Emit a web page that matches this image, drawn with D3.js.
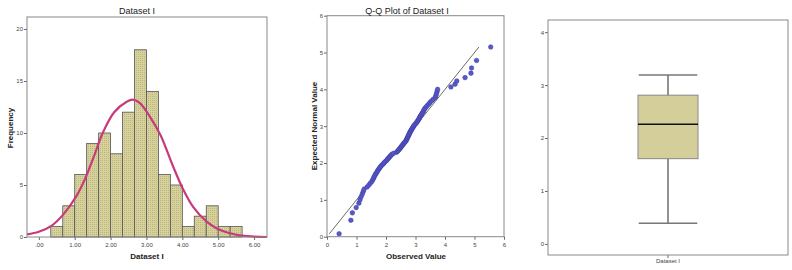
<!DOCTYPE html>
<html>
<head>
<meta charset="utf-8">
<script src="https://cdn.jsdelivr.net/npm/d3@7"></script>
<style>
  body { margin: 0; background: #fff; }
  svg { display: block; font-family: "Liberation Sans", Arial, sans-serif; }
  .axis path { display: none; }
  .axis line { stroke: #666; }
  .axis text { fill: #444; font-size: 6px; }
  .frame { fill: none; stroke: #888; stroke-width: 1; }
  .title { font-size: 9px; fill: #222; text-anchor: middle; }
  .label { font-size: 8px; font-weight: bold; fill: #222; text-anchor: middle; }
</style>
</head>
<body>
<svg width="792" height="270"></svg>
<script>
// histogram: bin edges and counts
var binStart = [0.333, 0.667, 1.0, 1.333, 1.667, 2.0, 2.333, 2.667, 3.0, 3.333, 3.667, 4.0, 4.333, 4.667, 5.0, 5.333];
var binCount = [1, 3, 6, 9, 10, 8, 12, 18, 14, 6, 5, 1, 2, 3, 1, 1];
var binWidth = 0.333;
var histXTicks = [0, 1, 2, 3, 4, 5, 6];
var histYTicks = [0, 5, 10, 15, 20];

// normal curve
var curveX = [-0.33, 0.0, 0.36, 0.69, 1.06, 1.29, 1.52, 1.78, 2.10, 2.45, 2.62, 2.81, 3.09, 3.39, 3.74, 4.02, 4.30, 4.67, 4.95, 5.23, 5.6, 6.0, 6.36];
var curveY = [0.25, 0.5, 1.1, 2.2, 4.0, 5.6, 7.6, 10.0, 12.0, 13.0, 13.2, 12.9, 11.6, 9.8, 6.8, 4.6, 2.9, 1.5, 0.85, 0.45, 0.15, 0.04, 0.0];

// Q-Q plot: observed vs expected normal value
var observed = [
  0.41, 0.81, 0.86, 0.99,
  1.08, 1.12, 1.16, 1.20, 1.23, 1.26,
  1.36, 1.42, 1.47, 1.52, 1.55, 1.58, 1.60, 1.63, 1.65,
  1.69, 1.71, 1.74, 1.77, 1.80, 1.83, 1.87, 1.91, 1.94, 1.98,
  2.02, 2.05, 2.08, 2.11, 2.14, 2.17, 2.20, 2.26,
  2.36, 2.39, 2.42, 2.45, 2.47, 2.50, 2.52, 2.55, 2.57, 2.60, 2.62, 2.65,
  2.68, 2.69, 2.71, 2.72, 2.74, 2.75, 2.77, 2.78, 2.80, 2.81, 2.83, 2.85, 2.87, 2.89, 2.91, 2.93, 2.95, 2.98,
  3.01, 3.04, 3.06, 3.09, 3.11, 3.13, 3.15, 3.17, 3.20, 3.22, 3.25, 3.27, 3.29, 3.32,
  3.36, 3.40, 3.45, 3.49, 3.54, 3.60,
  3.67, 3.69, 3.71, 3.73, 3.75,
  4.20, 4.34, 4.40, 4.68, 4.88, 4.90, 5.07, 5.55
];
var expected = [
  0.08, 0.445, 0.648, 0.79, 0.911, 1.003, 1.089, 1.165, 1.231, 1.292,
  1.35, 1.403, 1.453, 1.501, 1.546, 1.589, 1.63, 1.67, 1.708, 1.746,
  1.783, 1.818, 1.851, 1.885, 1.917, 1.949, 1.98, 2.011, 2.041, 2.07,
  2.10, 2.128, 2.156, 2.184, 2.211, 2.239, 2.265, 2.292, 2.319, 2.345,
  2.371, 2.397, 2.422, 2.449, 2.475, 2.50, 2.526, 2.551, 2.576, 2.602,
  2.628, 2.654, 2.679, 2.704, 2.73, 2.755, 2.781, 2.808, 2.833, 2.859,
  2.885, 2.911, 2.938, 2.965, 2.991, 3.019, 3.046, 3.074, 3.102, 3.13,
  3.16, 3.189, 3.219, 3.25, 3.281, 3.313, 3.345, 3.379, 3.412, 3.447,
  3.484, 3.522, 3.56, 3.60, 3.641, 3.684, 3.729, 3.777, 3.827, 3.88,
  3.938, 3.999, 4.065, 4.141, 4.227, 4.319, 4.44, 4.582, 4.785, 5.15
];
var qqLine = [0.08, 5.15];
var qqTicks = [0, 1, 2, 3, 4, 5, 6];

// box plot
var boxCategory = ["Dataset I"];
var boxStats = { min: 0.39, q1: 1.61, median: 2.26, q3: 2.81, max: 3.19 };
var boxTicks = [0, 1, 2, 3, 4];

var svg = d3.select("svg");

// dotted fill for the bars
var defs = svg.append("defs");
var pat = defs.append("pattern")
  .attr("id", "dots")
  .attr("width", 2).attr("height", 2)
  .attr("patternUnits", "userSpaceOnUse");
pat.append("rect").attr("width", 2).attr("height", 2).attr("fill", "#d6d19d");
pat.append("rect").attr("width", 1).attr("height", 1).attr("fill", "#bdb67c");

// ---------- histogram ----------
var hx = d3.scaleLinear().domain([-0.33, 6.36]).range([27, 267]),
    hy = d3.scaleLinear().domain([0, 21.15]).range([237, 17]);

svg.append("g")
  .attr("class", "axis")
  .attr("transform", "translate(0,237)")
  .call(d3.axisBottom(hx).tickValues(histXTicks).tickSize(3).tickFormat(function (d) {
    return d === 0 ? ".00" : d3.format(".2f")(d);
  }));

svg.append("g")
  .attr("class", "axis")
  .attr("transform", "translate(27,0)")
  .call(d3.axisLeft(hy).tickValues(histYTicks).tickSize(3).tickPadding(1));

svg.append("g").selectAll("rect")
  .data(binStart)
  .enter().append("rect")
  .attr("x", function (d) { return hx(d); })
  .attr("y", function (d, i) { return hy(binCount[i]); })
  .attr("width", function (d) { return hx(d + binWidth) - hx(d); })
  .attr("height", function (d, i) { return hy(0) - hy(binCount[i]); })
  .attr("fill", "url(#dots)")
  .attr("stroke", "#555")
  .attr("stroke-width", 0.8);

svg.append("path")
  .datum(curveX.map(function (d, i) { return [d, curveY[i]]; }))
  .attr("fill", "none")
  .attr("stroke", "#c73a7b")
  .attr("stroke-width", 2.2)
  .attr("d", d3.line()
    .x(function (d) { return hx(d[0]); })
    .y(function (d) { return hy(d[1]); })
    .curve(d3.curveCatmullRom));

svg.append("rect").attr("class", "frame")
  .attr("x", 27).attr("y", 17).attr("width", 240).attr("height", 220);

svg.append("text").attr("class", "title").attr("x", 137).attr("y", 14).text("Dataset I");
svg.append("text").attr("class", "label").attr("x", 147).attr("y", 259).text("Dataset I");
svg.append("text").attr("class", "label")
  .attr("transform", "translate(13,128) rotate(-90)").text("Frequency");

// ---------- Q-Q plot ----------
var qx = d3.scaleLinear().domain([0, 6]).range([327, 504]),
    qy = d3.scaleLinear().domain([0, 6]).range([236.7, 15.7]);

svg.append("g")
  .attr("class", "axis")
  .attr("transform", "translate(0,236.7)")
  .call(d3.axisBottom(qx).tickValues(qqTicks).tickSize(3).tickFormat(d3.format("d")));

svg.append("g")
  .attr("class", "axis")
  .attr("transform", "translate(327,0)")
  .call(d3.axisLeft(qy).tickValues(qqTicks).tickSize(3).tickPadding(1).tickFormat(d3.format("d")));

svg.append("line")
  .attr("x1", qx(qqLine[0])).attr("y1", qy(qqLine[0]))
  .attr("x2", qx(qqLine[1])).attr("y2", qy(qqLine[1]))
  .attr("stroke", "#444").attr("stroke-width", 0.8);

svg.append("g").selectAll("circle")
  .data(observed)
  .enter().append("circle")
  .attr("cx", function (d) { return qx(d); })
  .attr("cy", function (d, i) { return qy(expected[i]); })
  .attr("r", 2.3)
  .attr("fill", "#5858c8")
  .attr("stroke", "#3a3aa0")
  .attr("stroke-width", 0.5);

svg.append("rect").attr("class", "frame")
  .attr("x", 327).attr("y", 15.7).attr("width", 177).attr("height", 221);

svg.append("text").attr("class", "title").attr("x", 407).attr("y", 14).text("Q-Q Plot of Dataset I");
svg.append("text").attr("class", "label").attr("x", 416).attr("y", 259).text("Observed Value");
svg.append("text").attr("class", "label")
  .attr("transform", "translate(317,126) rotate(-90)").text("Expected Normal Value");

// ---------- box plot ----------
var bx = d3.scaleBand().domain(boxCategory).range([548, 788]),
    by = d3.scaleLinear().domain([-0.21, 4.23]).range([255, 20]);

svg.append("g")
  .attr("class", "axis")
  .attr("transform", "translate(548,0)")
  .call(d3.axisLeft(by).tickValues(boxTicks).tickSize(3).tickPadding(1).tickFormat(d3.format("d")));

svg.append("g")
  .attr("class", "axis")
  .attr("transform", "translate(0,255)")
  .call(d3.axisBottom(bx).tickSize(3).tickPadding(1));

var cx = bx(boxCategory[0]) + bx.bandwidth() / 2,
    boxW = bx.bandwidth() * 0.25,
    capW = bx.bandwidth() * 0.122;

svg.append("line")
  .attr("x1", cx).attr("x2", cx)
  .attr("y1", by(boxStats.min)).attr("y2", by(boxStats.max))
  .attr("stroke", "#777").attr("stroke-width", 1.6);

[boxStats.min, boxStats.max].forEach(function (v) {
  svg.append("line")
    .attr("x1", cx - capW).attr("x2", cx + capW)
    .attr("y1", by(v)).attr("y2", by(v))
    .attr("stroke", "#777").attr("stroke-width", 1.6);
});

svg.append("rect")
  .attr("x", cx - boxW / 2).attr("width", boxW)
  .attr("y", by(boxStats.q3)).attr("height", by(boxStats.q1) - by(boxStats.q3))
  .attr("fill", "#d4cf9a")
  .attr("stroke", "#888").attr("stroke-width", 1);

svg.append("line")
  .attr("x1", cx - boxW / 2).attr("x2", cx + boxW / 2)
  .attr("y1", by(boxStats.median)).attr("y2", by(boxStats.median))
  .attr("stroke", "#111").attr("stroke-width", 1.6);

svg.append("rect").attr("class", "frame")
  .attr("x", 548).attr("y", 20).attr("width", 240).attr("height", 235)
  .attr("stroke", "#666");
</script>
</body>
</html>
